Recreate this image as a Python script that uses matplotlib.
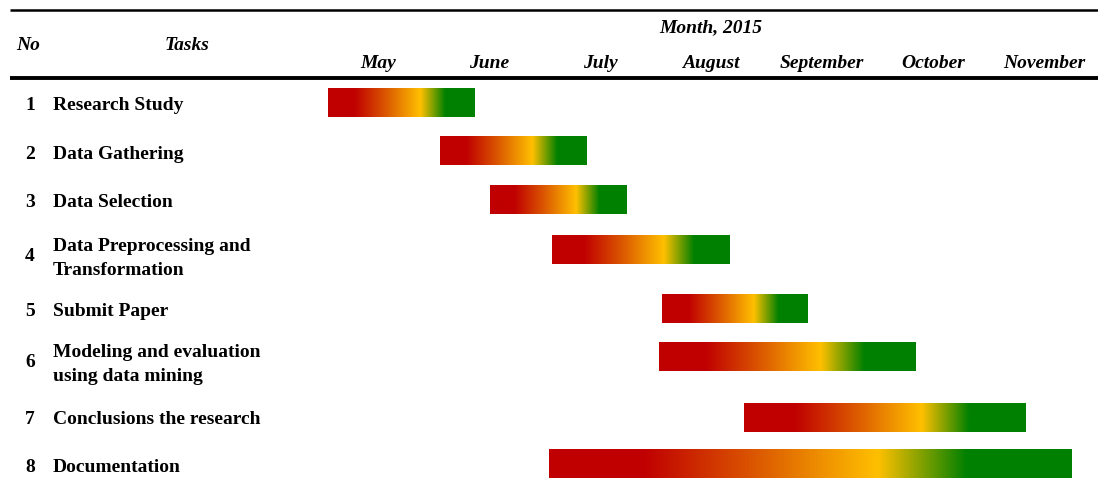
import numpy as np
import matplotlib
matplotlib.use('Agg')
import matplotlib.pyplot as plt
from matplotlib.colors import LinearSegmentedColormap

# data: months (index 0 = start of May 2015)
months = ['May', 'June', 'July', 'August', 'September', 'October', 'November']
task_no = ['1', '2', '3', '4', '5', '6', '7', '8']
tasks = ['Research Study', 'Data Gathering', 'Data Selection',
         'Data Preprocessing and\nTransformation', 'Submit Paper',
         'Modeling and evaluation\nusing data mining',
         'Conclusions the research', 'Documentation']
start = [0.05, 1.06, 1.51, 2.07, 3.06, 3.03, 3.80, 2.04]
finish = [1.37, 2.38, 2.74, 3.67, 4.37, 5.34, 6.34, 6.75]

# layout (pixels, y down)
W, H = 1098, 485
month_w = 111.0
x0 = 322.5
bar_y = [103.5, 151.5, 201, 250.5, 309.5, 358, 418.5, 465]
bar_h = 29
text_base = [110.5, 159.3, 207, 261, 316, 366.7, 424.3, 472.3]

serif = 'Liberation Serif'
fs = 14

grad = LinearSegmentedColormap.from_list('gantt', [
    (0.0, '#C00000'), (0.18, '#C00000'), (0.40, '#DC5A00'),
    (0.63, '#FFC000'), (0.80, '#008000'), (1.0, '#008000')])

fig = plt.figure(figsize=(W / 100, H / 100), dpi=100)
ax0 = fig.add_axes([0, 0, 1, 1])
ax0.set_xlim(0, W)
ax0.set_ylim(H, 0)
ax0.axis('off')

ax = fig.add_axes([x0 / W, 0, (W - x0) / W, 1])
ax.set_xlim(0, (W - x0) / month_w)
ax.set_ylim(H, 0)
ax.axis('off')

# header rules
ax0.plot([10, W], [10.5, 10.5], color='black', lw=1.8, solid_capstyle='butt')
ax0.plot([10, W], [79, 79], color='black', lw=2.8, solid_capstyle='butt')

hdr = dict(family=serif, weight='bold', style='italic', fontsize=fs,
           ha='center', va='center')
ax0.text(28, 45, 'No', **hdr)
ax0.text(187, 45, 'Tasks', **hdr)
ax.text(3.5, 28, 'Month, 2015', **hdr)
for i, m in enumerate(months):
    ax.text(i + 0.5, 63, m, **hdr)

# task rows
lbl = dict(family=serif, weight='bold', fontsize=fs, va='baseline')
for i in range(len(tasks)):
    ax0.text(30, text_base[i], task_no[i], ha='center', **lbl)
    lines = tasks[i].split('\n')
    if len(lines) == 1:
        ax0.text(53, text_base[i], lines[0], ha='left', **lbl)
    else:
        ax0.text(53, text_base[i] - 9.5, lines[0], ha='left', **lbl)
        ax0.text(53, text_base[i] + 14, lines[1], ha='left', **lbl)

g = np.linspace(0, 1, 512).reshape(1, -1)
for i in range(len(start)):
    c = bar_y[i]
    ax.imshow(g, cmap=grad, aspect='auto', interpolation='bilinear',
              extent=[start[i], finish[i], c + bar_h / 2, c - bar_h / 2])
ax.set_xlim(0, (W - x0) / month_w)
ax.set_ylim(H, 0)

plt.savefig('out.png', dpi=100)
